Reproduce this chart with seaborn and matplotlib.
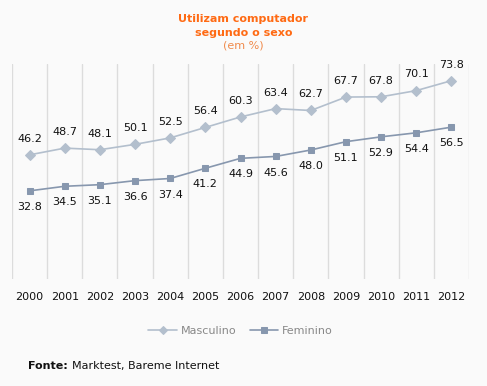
import numpy as np
import pandas as pd
import matplotlib
matplotlib.use("Agg")
import matplotlib.pyplot as plt
import seaborn as sns

years = [2000, 2001, 2002, 2003, 2004, 2005, 2006, 2007, 2008, 2009, 2010, 2011, 2012]
masculino = [46.2, 48.7, 48.1, 50.1, 52.5, 56.4, 60.3, 63.4, 62.7, 67.7, 67.8, 70.1, 73.8]
feminino = [32.8, 34.5, 35.1, 36.6, 37.4, 41.2, 44.9, 45.6, 48.0, 51.1, 52.9, 54.4, 56.5]

df = pd.DataFrame({"ano": years, "Masculino": masculino, "Feminino": feminino})

sns.set_theme(style="white")
plt.rcParams["font.family"] = ["DejaVu Sans"]

bg = "#fafafa"
c_masc = "#b3bfcd"
c_fem = "#8797ae"

fig = plt.figure(figsize=(4.87, 3.86), dpi=100, facecolor=bg)
ax = fig.add_axes([12 / 487, 1 - 279 / 386, (469 - 12) / 487, (279 - 64) / 386])
ax.set_facecolor(bg)

sns.lineplot(data=df, x="ano", y="Masculino", ax=ax, color=c_masc, marker="D",
             markersize=5, markeredgecolor=c_masc, linewidth=1.2, label="Masculino")
sns.lineplot(data=df, x="ano", y="Feminino", ax=ax, color=c_fem, marker="s",
             markersize=5, markeredgecolor=c_fem, linewidth=1.2, label="Feminino")

for x, v in zip(years, masculino):
    ax.annotate(f"{v:.1f}", (x, v), xytext=(0, 8), textcoords="offset points",
                ha="center", va="bottom", fontsize=8, color="#111111")
for x, v in zip(years, feminino):
    ax.annotate(f"{v:.1f}", (x, v), xytext=(0, -8), textcoords="offset points",
                ha="center", va="top", fontsize=8, color="#111111")

ax.set_xlim(1999.5, 2012.5)
ax.set_ylim(0, 80)
ax.set_xticks(years)
ax.set_xticklabels([str(y) for y in years], fontsize=8, color="#111111")
ax.set_xticks(np.arange(1999.5, 2013, 1.0), minor=True)
ax.grid(which="minor", axis="x", color="#dcdcdc", linewidth=1)
ax.tick_params(axis="x", which="both", length=0, pad=9)
ax.set_yticks([])
ax.set_xlabel("")
ax.set_ylabel("")
for s in ax.spines.values():
    s.set_visible(False)

leg = ax.legend(loc="center", bbox_to_anchor=(0.5, (279 - 331) / 215), ncol=2, frameon=False,
                fontsize=8, handlelength=2.6, columnspacing=1.2, handletextpad=0.3,
                markerscale=0.8)
for t in leg.get_texts():
    t.set_color("#888888")

fig.text(0.5, 1 - 19 / 386, "Utilizam computador", ha="center", va="center",
         fontsize=8, fontweight="bold", color="#ff6a13")
fig.text(0.5, 1 - 33 / 386, "segundo o sexo", ha="center", va="center",
         fontsize=8, fontweight="bold", color="#ff6a13")
fig.text(0.5, 1 - 46 / 386, "(em %)", ha="center", va="center", fontsize=8, color="#f08a4b")

t1 = fig.text(28 / 487, 1 - 366 / 386, "Fonte:", ha="left", va="center", fontsize=8,
              fontweight="bold", color="#111111")
fig.canvas.draw()
bb = t1.get_window_extent()
fig.text((bb.x1 + 4) / 487, 1 - 366 / 386, "Marktest, Bareme Internet", ha="left", va="center",
         fontsize=8, color="#111111")

fig.savefig("out.png", dpi=100, facecolor=bg)
